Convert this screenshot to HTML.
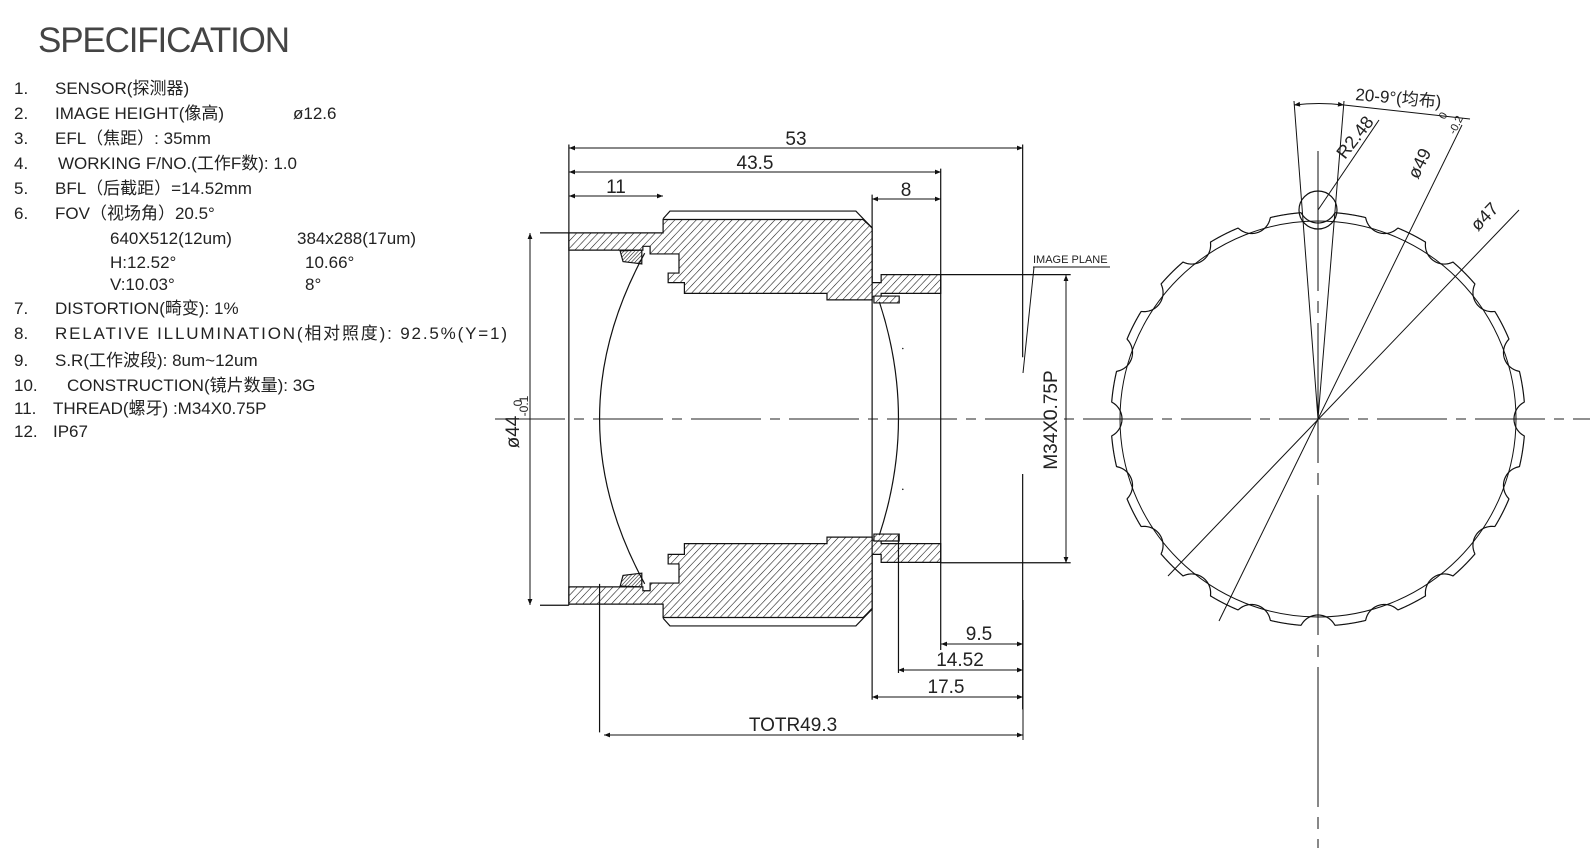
<!DOCTYPE html>
<html><head><meta charset="utf-8"><style>
html,body{margin:0;padding:0;background:#fff;}
svg{display:block;}
text{font-family:"Liberation Sans","Noto Sans CJK SC",sans-serif;fill:#222;}
.sp{font-size:17px;}
.d{font-size:19px;}
</style></head><body>
<svg id="s" width="1596" height="848" viewBox="0 0 1596 848" xmlns="http://www.w3.org/2000/svg">
<defs>
<pattern id="h" patternUnits="userSpaceOnUse" width="14" height="14" patternTransform="rotate(45)">
<rect width="14" height="14" fill="#fff"/><line x1="0" y1="0" x2="0" y2="14" stroke="#111" stroke-width="3"/></pattern>
<pattern id="hm" patternUnits="userSpaceOnUse" width="14" height="14" patternTransform="rotate(-45)">
<rect width="14" height="14" fill="#fff"/><line x1="0" y1="0" x2="0" y2="14" stroke="#111" stroke-width="3"/></pattern>
<pattern id="h2" patternUnits="userSpaceOnUse" width="7" height="7" patternTransform="rotate(45)">
<rect width="7" height="7" fill="#fff"/><line x1="0" y1="0" x2="0" y2="7" stroke="#111" stroke-width="3"/></pattern>
<pattern id="h2m" patternUnits="userSpaceOnUse" width="7" height="7" patternTransform="rotate(-45)">
<rect width="7" height="7" fill="#fff"/><line x1="0" y1="0" x2="0" y2="7" stroke="#111" stroke-width="3"/></pattern>
<marker id="a" viewBox="0 0 10 10" refX="10" refY="5" markerWidth="9" markerHeight="6" orient="auto-start-reverse" markerUnits="userSpaceOnUse"><path d="M0,1 L10,5 L0,9 z" fill="#111"/></marker>
</defs>

<!-- Spec text -->
<text x="38" y="52" font-size="35" textLength="252" style="fill:#444">SPECIFICATION</text>
<g class="sp">
<text x="14" y="94">1.</text><text x="55" y="94">SENSOR(探测器)</text>
<text x="14" y="119">2.</text><text x="55" y="119">IMAGE HEIGHT(像高)</text><text x="293" y="119">ø12.6</text>
<text x="14" y="144">3.</text><text x="55" y="144">EFL（焦距）: 35mm</text>
<text x="14" y="169">4.</text><text x="58" y="169">WORKING F/NO.(工作F数): 1.0</text>
<text x="14" y="194">5.</text><text x="55" y="194">BFL（后截距）=14.52mm</text>
<text x="14" y="219">6.</text><text x="55" y="219">FOV（视场角）20.5°</text>
<text x="110" y="244">640X512(12um)</text><text x="297" y="244">384x288(17um)</text>
<text x="110" y="268">H:12.52°</text><text x="305" y="268">10.66°</text>
<text x="110" y="290">V:10.03°</text><text x="305" y="290">8°</text>
<text x="14" y="314">7.</text><text x="55" y="314">DISTORTION(畸变): 1%</text>
<text x="14" y="339">8.</text><text x="55" y="339" textLength="452">RELATIVE ILLUMINATION(相对照度): 92.5%(Y=1)</text>
<text x="14" y="366">9.</text><text x="55" y="366">S.R(工作波段): 8um~12um</text>
<text x="14" y="391">10.</text><text x="67" y="391">CONSTRUCTION(镜片数量): 3G</text>
<text x="14" y="414">11.</text><text x="53" y="414">THREAD(螺牙) :M34X0.75P</text>
<text x="14" y="437">12.</text><text x="53" y="437">IP67</text>
</g>

<!-- axis -->
<line x1="495" y1="419" x2="1590" y2="419" stroke="#222" stroke-width="1" stroke-dasharray="70,9,10,9"/>

<!-- lens drawing in zoom coords -->
<g transform="translate(540,120) scale(0.361,0.3827)" stroke="#111" stroke-width="1.2" fill="none">
 <g>
  <polygon vector-effect="non-scaling-stroke" fill="url(#h)" points="80,295 341,295 341,260 895,260 920,282 920,425 945,425 945,404 1110,404 1110,453 945,453 945,462 920,462 920,470 795,470 795,453 400,453 400,425 355,425 355,400 385,400 385,350 305,350 305,330 285,330 285,340 80,340"/>
  <polyline vector-effect="non-scaling-stroke" points="341,258 360,238 875,238 920,282"/>
  <polygon vector-effect="non-scaling-stroke" fill="url(#h2)" points="222,342 282,340 282,376 230,370"/>
  <rect vector-effect="non-scaling-stroke" x="925" y="460" width="70" height="18" fill="url(#h)"/>
 </g>
 <g transform="translate(0,1560) scale(1,-1)">
  <polygon vector-effect="non-scaling-stroke" fill="url(#hm)" points="80,295 341,295 341,260 895,260 920,282 920,425 945,425 945,404 1110,404 1110,453 945,453 945,462 920,462 920,470 795,470 795,453 400,453 400,425 355,425 355,400 385,400 385,350 305,350 305,330 285,330 285,340 80,340"/>
  <polyline vector-effect="non-scaling-stroke" points="341,258 360,238 875,238 920,282"/>
  <polygon vector-effect="non-scaling-stroke" fill="url(#h2m)" points="222,342 282,340 282,376 230,370"/>
  <rect vector-effect="non-scaling-stroke" x="925" y="460" width="70" height="18" fill="url(#hm)"/>
 </g>
 <path vector-effect="non-scaling-stroke" d="M290,348 Q40,780 290,1212"/>
 <path vector-effect="non-scaling-stroke" d="M940,475 Q1046,780 940,1085"/>
 <path vector-effect="non-scaling-stroke" d="M80,64 V1268 M165,1212 V1600 M1110,127 V1385 M920,195 V1515 M993,1085 V1445 M1337,64 V620 M1337,925 V1540 M1110,404 H1470 M1110,1157 H1470 M0,295 H80 M0,1268 H80"/>
 <circle cx="1005" cy="597" r="2" fill="#111" stroke="none"/>
 <circle cx="1005" cy="965" r="2" fill="#111" stroke="none"/>
</g>

<!-- dims lens -->
<g stroke="#111" stroke-width="1" fill="none">
 <line x1="569" y1="148" x2="1023" y2="148" marker-start="url(#a)" marker-end="url(#a)"/>
 <line x1="569" y1="172" x2="941" y2="172" marker-start="url(#a)" marker-end="url(#a)"/>
 <line x1="569" y1="196" x2="663" y2="196" marker-start="url(#a)" marker-end="url(#a)"/>
 <line x1="872" y1="199" x2="941" y2="199" marker-start="url(#a)" marker-end="url(#a)"/>
 <line x1="941" y1="644" x2="1023" y2="644" marker-start="url(#a)" marker-end="url(#a)"/>
 <line x1="898" y1="670" x2="1023" y2="670" marker-start="url(#a)" marker-end="url(#a)"/>
 <line x1="872" y1="697" x2="1023" y2="697" marker-start="url(#a)" marker-end="url(#a)"/>
 <line x1="604" y1="735" x2="1023" y2="735" marker-start="url(#a)" marker-end="url(#a)"/>
 <line x1="1023" y1="600" x2="1023" y2="740"/>
 <line x1="1066" y1="275" x2="1066" y2="563" marker-start="url(#a)" marker-end="url(#a)"/>
 <line x1="530" y1="233" x2="530" y2="605" marker-start="url(#a)" marker-end="url(#a)"/>
 <line x1="1033" y1="267" x2="1110" y2="267"/>
 <line x1="1034" y1="267" x2="1023" y2="373"/>
</g>
<g class="d" text-anchor="middle">
 <text x="796" y="145">53</text>
 <text x="755" y="169">43.5</text>
 <text x="616" y="193">11</text>
 <text x="906" y="196">8</text>
 <text x="979" y="640">9.5</text>
 <text x="960" y="666">14.52</text>
 <text x="946" y="693">17.5</text>
 <text x="793" y="731">TOTR49.3</text>
 <text transform="translate(1057,420) rotate(-90)">M34X0.75P</text>
 <text transform="translate(519,432) rotate(-90)">ø44</text>
</g>
<text transform="translate(522,403) rotate(-90)" font-size="12" text-anchor="middle">0</text>
<text transform="translate(528,406) rotate(-90)" font-size="12" text-anchor="middle">-0.1</text>
<text x="1033" y="263" font-size="11">IMAGE PLANE</text>

<!-- front view -->
<g stroke="#111" fill="none" stroke-width="1.2">
 <path id="ring"/>
 <circle cx="1318" cy="419" r="198" stroke-width="1"/>
 <circle cx="1318" cy="210" r="19"/>
 <line x1="1318" y1="151" x2="1318" y2="848" stroke-width="1" stroke-dasharray="140,10,12,10"/>
 <line x1="1318" y1="419" x2="1294" y2="101" stroke-width="1"/>
 <line x1="1318" y1="419" x2="1344" y2="101" stroke-width="1"/>
 <path d="M1294,105 Q1319,102 1344,105" stroke-width="1" marker-start="url(#a)" marker-end="url(#a)"/>
 <line x1="1344" y1="105" x2="1470" y2="119" stroke-width="1"/>
 <line x1="1318" y1="210" x2="1379" y2="120" stroke-width="1"/>
 <line x1="1462" y1="125" x2="1219" y2="621" stroke-width="1"/>
 <line x1="1519" y1="210" x2="1168" y2="576" stroke-width="1"/>
</g>
<g class="d">
 <text transform="translate(1355,100) rotate(5)" font-size="17">20-9°(均布)</text>
 <text transform="translate(1345,160) rotate(-52)" font-size="18">R2.48</text>
 <text transform="translate(1418,180) rotate(-64)" font-size="18">ø49</text>
 <text transform="translate(1445,120) rotate(-64)" font-size="11">0</text>
 <text transform="translate(1455,135) rotate(-64)" font-size="11">-0.2</text>
 <text transform="translate(1478,232) rotate(-46)" font-size="18">ø47</text>
</g>
</svg>
<script>
(function(){
 var cx=1318,cy=419,R=207,r=19,c=R+8,pts=[];
 for(var i=0;i<2880;i++){
  var phi=i/2880*2*Math.PI;
  var rel=phi%(Math.PI/10); if(rel>Math.PI/20) rel-=Math.PI/10;
  var a=Math.abs(rel), rad=R;
  var s=c*Math.sin(a);
  if(s<r){var rr=c*Math.cos(a)-Math.sqrt(r*r-s*s); if(rr<R) rad=rr;}
  var ang=phi-Math.PI/2;
  pts.push((cx+rad*Math.cos(ang)).toFixed(2)+","+(cy+rad*Math.sin(ang)).toFixed(2));
 }
 document.getElementById("ring").setAttribute("d","M"+pts.join(" L")+" Z");
})();
</script>
</body></html>
